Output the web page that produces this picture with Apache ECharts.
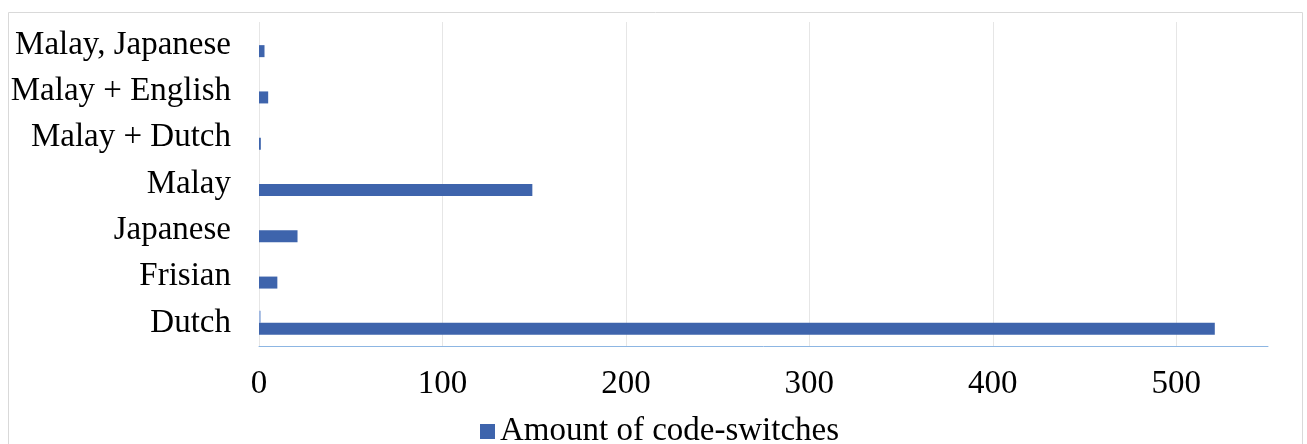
<!DOCTYPE html>
<html>
<head>
<meta charset="utf-8">
<script src="https://cdn.jsdelivr.net/npm/echarts@6/dist/echarts.min.js"></script>
<style>
  html, body { margin: 0; padding: 0; background: #fff; }
  #main { width: 1307px; height: 444px; }
</style>
</head>
<body>
<div id="main"></div>
<script>
var categories = ['Dutch', 'Frisian', 'Japanese', 'Malay', 'Malay + Dutch', 'Malay + English', 'Malay, Japanese'];
var switchCounts = [521, 10, 21, 149, 1, 5, 3];
// small second series, only visible next to Dutch
var otherCounts = [1, 0, 0, 0, 0, 0, 0];
var xTicks = { min: 0, max: 550, step: 100 };

var myChart = echarts.init(document.getElementById('main'));

var font = 'Liberation Serif, Times New Roman, serif';

var option = {
    animation: false,
    graphic: [{
        type: 'rect',
        shape: { x: 8.5, y: 12.5, width: 1294, height: 450 },
        style: { fill: 'none', stroke: '#d9d9d9', lineWidth: 1 },
        silent: true
    }],
    legend: {
        data: ['Amount of code-switches'],
        left: 475,
        top: 410,
        itemWidth: 15,
        itemHeight: 15,
        icon: 'rect',
        itemGap: 10,
        textStyle: { fontFamily: font, fontSize: 33, color: '#000' }
    },
    grid: {
        left: 259,
        right: 39,
        top: 22,
        bottom: 98,
        containLabel: false
    },
    xAxis: {
        type: 'value',
        min: xTicks.min,
        max: xTicks.max,
        interval: xTicks.step,
        axisLine: { show: true, lineStyle: { color: '#8db6e3', width: 1 } },
        axisTick: { show: false },
        axisLabel: {
            showMaxLabel: false,
            fontFamily: font,
            fontSize: 33,
            color: '#000',
            margin: 22
        },
        splitLine: { show: true, showMaxLine: false, lineStyle: { color: '#e6e6e6', width: 1 } }
    },
    yAxis: {
        type: 'category',
        data: categories,
        axisLine: { show: false },
        axisTick: { show: false },
        axisLabel: {
            fontFamily: font,
            fontSize: 33,
            color: '#000',
            margin: 28,
            padding: [4, 0, 0, 0]
        }
    },
    series: [
        {
            name: 'Other',
            type: 'bar',
            data: otherCounts,
            barWidth: 12,
            barGap: '0%',
            itemStyle: { color: '#9fb7e0' }
        },
        {
            name: 'Amount of code-switches',
            type: 'bar',
            data: switchCounts,
            barWidth: 12,
            barGap: '0%',
            itemStyle: { color: '#3e64ac' }
        }
    ]
};

myChart.setOption(option);
</script>
</body>
</html>
